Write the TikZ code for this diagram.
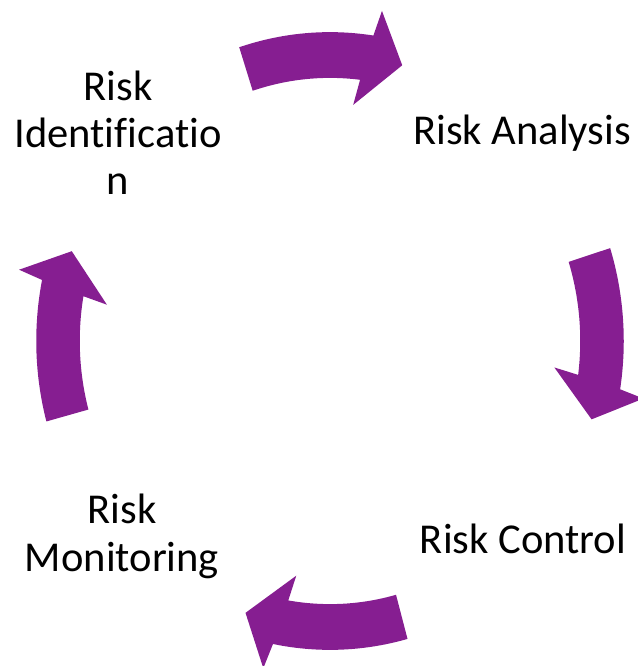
\documentclass[tikz,border=0pt]{standalone}
\usepackage{fontspec}
\setmainfont[Ligatures=NoCommon]{Carlito}
\definecolor{cyclepurple}{RGB}{134,30,145}
\tikzset{
  steplabel/.style={align=center,inner sep=0pt,anchor=base,
    font=\fontsize{31.9}{35.6}\selectfont},
  cyclefill/.style={fill=cyclepurple}
}
% one curved arrow of the cycle, #1 = angle of its middle
\newcommand{\cyclearrow}[1]{%
  \pgfmathsetmacro\tailang{#1+16.5}
  \pgfmathsetmacro\outang{#1-10}
  \pgfmathsetmacro\inang{#1-8.4}
  \fill[cyclefill] plot[domain=\tailang:\outang,samples=25] ({1.08*cos(\x)},{1.08*sin(\x)})
    -- ({1.17*cos(#1-10.9)},{1.17*sin(#1-10.9)})
    -- ({cos(#1-16.9)},{sin(#1-16.9)})
    -- ({0.83*cos(#1-7.4)},{0.83*sin(#1-7.4)})
    -- ({0.92*cos(\inang)},{0.92*sin(\inang)})
    -- plot[domain=\inang:\tailang,samples=25] ({0.92*cos(\x)},{0.92*sin(\x)}) -- cycle;
}
\begin{document}
\begin{tikzpicture}[x=0.75pt,y=-0.75pt]
  \useasboundingbox (0,0) rectangle (637,666);
  \begin{scope}[shift={(330,341)},xscale=272,yscale=-286]
    \cyclearrow{91.5}
    \cyclearrow{1}
    \cyclearrow{-91.2}
    \cyclearrow{178.6}
  \end{scope}
  \node[steplabel] (ident) at (118,195) {Risk\\Identificatio\\n};
  \node[steplabel] (analysis) at (522,145) {Risk Analysis};
  \node[steplabel] (control) at (523,553) {Risk Control};
  \node[steplabel] (monitor) at (122,571) {Risk\\Monitoring};
\end{tikzpicture}
\end{document}
